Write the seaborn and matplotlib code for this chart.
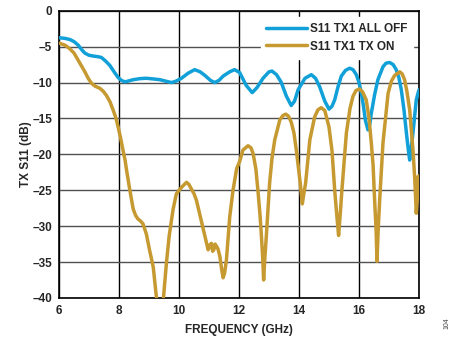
import matplotlib
matplotlib.use("Agg")
import matplotlib.pyplot as plt
import numpy as np
import pandas as pd
import seaborn as sns

# S11 TX1 ALL OFF (blue)
off_freq = [6.00, 6.20, 6.36, 6.50, 6.64, 6.75, 6.86, 7.00, 7.13, 7.30, 7.41, 7.55, 7.69, 7.85,
            7.97, 8.08, 8.19, 8.30, 8.47, 8.70, 8.91, 9.15, 9.36, 9.55, 9.75, 9.90, 10.08, 10.30,
            10.52, 10.70, 10.86, 11.05, 11.19, 11.33, 11.47, 11.69, 11.85, 12.02, 12.24, 12.44,
            12.60, 12.80, 13.00, 13.10, 13.25, 13.40, 13.58, 13.74, 13.85, 13.97, 14.20, 14.41,
            14.55, 14.69, 14.86, 15.00, 15.10, 15.19, 15.30, 15.41, 15.55, 15.69, 15.80, 15.91,
            16.00, 16.08, 16.15, 16.21, 16.30, 16.36, 16.41, 16.52, 16.63, 16.80, 16.90, 17.02,
            17.14, 17.24, 17.33, 17.41, 17.50, 17.58, 17.64, 17.69, 17.74, 17.80, 17.91, 18.00]
off_db = [-3.75, -3.85, -4.0, -4.3, -4.8, -5.4, -5.9, -6.2, -6.3, -6.4, -6.5, -7.0, -7.6, -8.6,
          -9.3, -9.7, -9.9, -9.8, -9.6, -9.45, -9.4, -9.5, -9.6, -9.8, -10.0, -9.8, -9.4, -8.7,
          -8.2, -8.5, -9.0, -9.7, -10.0, -9.7, -9.1, -8.5, -8.2, -8.6, -10.4, -11.4,
          -10.7, -9.4, -8.5, -8.4, -8.9, -9.9, -11.9, -13.2, -12.6, -11.0, -9.4, -8.9,
          -9.4, -10.6, -12.6, -13.7, -13.3, -12.4, -10.6, -9.1, -8.3, -8.0, -8.2, -8.9,
          -10.0, -11.5, -13.3, -15.2, -16.6, -15.8, -14.3, -11.7, -9.6, -7.8, -7.3, -7.2,
          -7.5, -8.2, -9.3, -11.0, -13.8, -17.0, -19.2, -20.8, -19.2, -17.0, -12.4, -11.0]

# S11 TX1 TX ON (gold)
on_freq = [6.00, 6.20, 6.36, 6.50, 6.64, 6.75, 6.86, 6.97, 7.08, 7.20, 7.36, 7.47, 7.58, 7.70,
           7.80, 7.90, 7.97, 8.05, 8.13, 8.20, 8.25, 8.36, 8.47, 8.55, 8.63, 8.72, 8.80, 8.91,
           9.02, 9.14, 9.22, 9.26, 9.30, 9.37, 9.47, 9.52, 9.58, 9.67, 9.80, 9.91, 10.08, 10.18,
           10.25, 10.33, 10.41, 10.50, 10.58, 10.71, 10.86, 10.97, 11.03, 11.08, 11.12, 11.16,
           11.20, 11.25, 11.30, 11.36, 11.42, 11.47, 11.52, 11.58, 11.69, 11.80, 11.92, 12.02,
           12.13, 12.30, 12.40, 12.47, 12.56, 12.63, 12.70, 12.74, 12.79, 12.82, 12.86, 12.91,
           13.02, 13.10, 13.19, 13.36, 13.46, 13.56, 13.65, 13.74, 13.83, 13.91, 14.04, 14.11,
           14.16, 14.22, 14.36, 14.52, 14.63, 14.74, 14.86, 15.00, 15.10, 15.19, 15.26, 15.32,
           15.38, 15.43, 15.58, 15.70, 15.80, 15.90, 16.02, 16.12, 16.24, 16.33, 16.41, 16.47,
           16.52, 16.57, 16.60, 16.64, 16.69, 16.80, 16.97, 17.08, 17.19, 17.36, 17.44, 17.52,
           17.60, 17.69, 17.80, 17.86, 17.91, 17.95, 17.97, 18.00]
on_db = [-4.5, -4.8, -5.3, -5.9, -6.9, -7.7, -8.5, -9.4, -10.1, -10.5, -10.8, -11.2, -11.8, -12.7,
         -13.8, -15.0, -16.2, -17.7, -19.4, -20.8, -22.2, -25.0, -27.6, -28.5, -29.0, -29.3, -29.7, -31.1,
         -33.4, -35.7, -39.0, -40.5, -42.0, -43.0, -40.5, -38.0, -35.1, -31.4, -27.7, -25.5, -24.6, -24.2,
         -23.9, -24.2, -24.8, -25.5, -26.4, -28.7, -31.4, -33.3, -32.6, -32.4, -33.5, -33.3,
         -32.5, -32.8, -33.2, -34.2, -36.0, -37.2, -36.5, -34.7, -28.7, -25.0, -22.0, -21.0,
         -19.4, -18.8, -19.1, -19.9, -22.0, -25.0, -28.5, -30.9, -34.5, -37.5, -34.5, -31.4,
         -24.0, -20.5, -18.0, -15.2, -14.6, -14.4, -14.7, -15.5, -17.0, -19.4, -24.0, -26.9,
         -25.5, -24.0, -18.0, -14.8, -13.8, -13.5, -13.9, -16.2, -19.5, -25.0, -28.5, -31.3,
         -28.0, -25.0, -17.0, -13.6, -11.9, -11.1, -10.9, -11.3, -12.4, -14.8, -18.4, -21.5,
         -26.3, -30.5, -34.9, -30.5, -26.3, -18.4, -11.5, -9.8, -9.0, -8.5, -8.8, -9.6,
         -11.3, -13.8, -19.4, -23.5, -28.2, -26.0, -23.1, -23.0]

series_names = ["S11 TX1 ALL OFF", "S11 TX1 TX ON"]
colors = ["#12A0D8", "#C69A30"]

x_ticks = [6, 8, 10, 12, 14, 16, 18]
y_ticks = [0, -5, -10, -15, -20, -25, -30, -35, -40]

df = pd.concat([
    pd.DataFrame({"freq": off_freq, "s11": off_db, "trace": series_names[0]}),
    pd.DataFrame({"freq": on_freq, "s11": on_db, "trace": series_names[1]}),
])

sns.set_style("white")
plt.rcParams["font.family"] = ["Liberation Sans", "DejaVu Sans"]
plt.rcParams["font.weight"] = "bold"

fig = plt.figure(figsize=(4.51, 3.37), dpi=100)
ax = fig.add_axes([0.131, 0.116, 0.798, 0.852])

sns.lineplot(data=df, x="freq", y="s11", hue="trace", palette=colors,
             estimator=None, sort=False, linewidth=2.5, ax=ax, zorder=3)

ax.set_xlim(6, 18)
ax.set_ylim(-40, 0)
ax.set_xticks(x_ticks)
ax.set_yticks(y_ticks)
ax.set_yticklabels([str(v).replace("-", "\u2013") for v in y_ticks])
ax.tick_params(length=0, labelsize=8.5, pad=5)
for lbl in ax.get_xticklabels() + ax.get_yticklabels():
    lbl.set_fontweight("bold")

ax.grid(axis="x", color="black", linewidth=1.0)
ax.grid(axis="y", color="#505050", linewidth=1.0)
ax.set_axisbelow(True)
for s in ax.spines.values():
    s.set_color("black")
    s.set_linewidth(1.2)

ax.set_xlabel("FREQUENCY (GHz)", fontsize=8.5, fontweight="bold", labelpad=5)
ax.set_ylabel("TX S11 (dB)", fontsize=8.5, fontweight="bold", labelpad=0)

# white box with a small gap to the top and right spines, like the original
leg = ax.legend(loc="upper right", bbox_to_anchor=(0.983, 0.979), fontsize=8.5, frameon=True,
                handlelength=3.4, borderaxespad=0, borderpad=0.5,
                labelspacing=0.5, handletextpad=0.25)
leg.get_frame().set_facecolor("white")
leg.get_frame().set_edgecolor("white")
leg.get_frame().set_alpha(1.0)
leg.get_frame().set_boxstyle("square", pad=0)
for t in leg.get_texts():
    t.set_fontweight("bold")

fig.text(0.983, 0.03, "104", rotation=90, fontsize=5, color="#444444", fontweight="normal")

fig.savefig("out.png", dpi=100)
